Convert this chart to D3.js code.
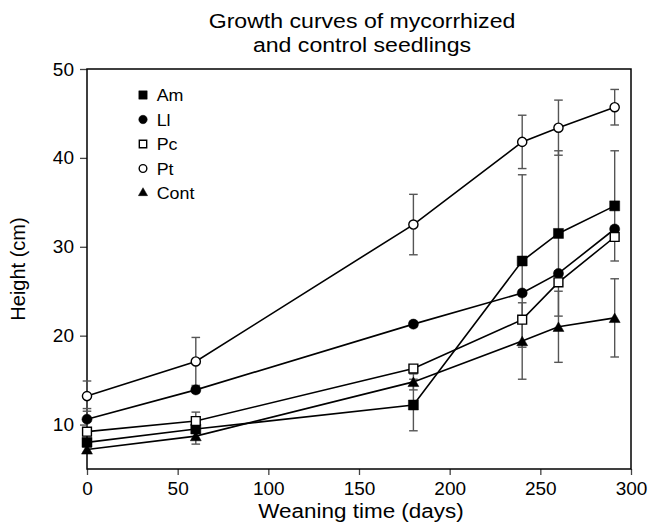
<!DOCTYPE html>
<html>
<head>
<meta charset="utf-8">
<script src="https://cdn.jsdelivr.net/npm/d3@7"></script>
<style>
  body { margin: 0; background: #fff; }
  text { font-family: "Liberation Sans", Arial, sans-serif; fill: #000; }
</style>
</head>
<body>
<svg class="growth" width="650" height="526"></svg>
<script>
/**********************
 Data
**********************/
var days = [0, 60, 180, 240, 260, 291];

var amHeight = [8.0, 9.5, 12.2, 28.4, 31.5, 34.6];
var amErr = [0.3, 0.3, 2.9, 9.7, 9.3, 6.2];
var llHeight = [10.6, 13.9, 21.3, 24.8, 27.0, 32.0];
var llErr = [1.2, 0.3, 0.3, 0.3, 0.3, 0.3];
var pcHeight = [9.2, 10.4, 16.3, 21.8, 26.0, 31.1];
var pcErr = [0.3, 1.0, 0.3, 0.3, 0.3, 0.3];
var ptHeight = [13.2, 17.1, 32.5, 41.8, 43.4, 45.7];
var ptErr = [1.7, 2.7, 3.4, 3.0, 3.1, 2.0];
var contHeight = [7.2, 8.7, 14.8, 19.4, 21.0, 22.0];
var contErr = [0.3, 0.9, 0.9, 4.3, 4.0, 4.4];

var seriesNames = ['Am', 'Ll', 'Pc', 'Pt', 'Cont'];
var xTicks = [0, 50, 100, 150, 200, 250, 300];
var yTicks = [10, 20, 30, 40, 50];

// marker look for each series
var markerStyle = {
  'Am':   {shape: d3.symbolSquare,   size: 100, filled: true},
  'Ll':   {shape: d3.symbolCircle,   size: 80,  filled: true},
  'Pc':   {shape: d3.symbolSquare,   size: 78,  filled: false},
  'Pt':   {shape: d3.symbolCircle,   size: 66,  filled: false},
  'Cont': {shape: d3.symbolTriangle, size: 52,  filled: true}
};

var series = [
  {name: 'Am', values: amHeight, err: amErr},
  {name: 'Ll', values: llHeight, err: llErr},
  {name: 'Pc', values: pcHeight, err: pcErr},
  {name: 'Pt', values: ptHeight, err: ptErr},
  {name: 'Cont', values: contHeight, err: contErr}
];
series.forEach(function(s) {
  s.points = days.map(function(d, i) {
    return {day: d, h: s.values[i], e: s.err[i]};
  });
});

/**********************
 Layout
**********************/
var svg = d3.select('svg.growth');
var padding = {t: 69, r: 19, b: 57, l: 87};
var svgWidth = +svg.attr('width');
var svgHeight = +svg.attr('height');
var chartWidth = svgWidth - padding.l - padding.r;
var chartHeight = svgHeight - padding.t - padding.b;

var xScale = d3.scaleLinear().domain([0, 300]).range([0, chartWidth]);
var yScale = d3.scaleLinear().domain([5, 50]).range([chartHeight, 0]);

var chartG = svg.append('g')
  .attr('transform', 'translate(' + [padding.l, padding.t] + ')');

/**********************
 Axes + frame
**********************/
var xAxis = chartG.append('g')
  .attr('transform', 'translate(0,' + chartHeight + ')')
  .call(d3.axisBottom(xScale).tickValues(xTicks).tickSize(6).tickPadding(7));

var yAxis = chartG.append('g')
  .call(d3.axisLeft(yScale).tickValues(yTicks).tickSize(7).tickPadding(6));

[xAxis, yAxis].forEach(function(a) {
  a.select('.domain').remove();
  a.selectAll('line').attr('stroke', '#444').attr('stroke-width', 1.3);
  a.selectAll('text').style('font-size', '19px')
    .style('font-family', '"Liberation Sans", Arial, sans-serif');
});

chartG.append('rect')
  .attr('x', 0).attr('y', 0)
  .attr('width', chartWidth).attr('height', chartHeight)
  .attr('fill', 'none')
  .attr('stroke', '#000')
  .attr('stroke-width', 1.5);

/**********************
 Error bars, lines, markers
**********************/
var capHalf = 4.3;
var errG = chartG.append('g').attr('stroke', '#555').attr('stroke-width', 1.4);

series.forEach(function(s) {
  var g = errG.append('g');
  g.selectAll('line.bar')
    .data(s.points)
    .enter()
    .append('line')
    .attr('x1', function(d) { return xScale(d.day); })
    .attr('x2', function(d) { return xScale(d.day); })
    .attr('y1', function(d) { return yScale(d.h - d.e); })
    .attr('y2', function(d) { return yScale(d.h + d.e); });
  // caps top and bottom
  [-1, 1].forEach(function(sign) {
    g.selectAll('line.cap' + sign)
      .data(s.points)
      .enter()
      .append('line')
      .attr('x1', function(d) { return xScale(d.day) - capHalf; })
      .attr('x2', function(d) { return xScale(d.day) + capHalf; })
      .attr('y1', function(d) { return yScale(d.h + sign * d.e); })
      .attr('y2', function(d) { return yScale(d.h + sign * d.e); });
  });
});

var lineGenerator = d3.line()
  .x(function(d) { return xScale(d.day); })
  .y(function(d) { return yScale(d.h); });

chartG.selectAll('path.series')
  .data(series)
  .enter()
  .append('path')
  .attr('class', 'series')
  .attr('d', function(d) { return lineGenerator(d.points); })
  .attr('fill', 'none')
  .attr('stroke', '#000')
  .attr('stroke-width', 1.6);

function drawMarker(sel, name, scale) {
  var st = markerStyle[name];
  sel.attr('d', d3.symbol().type(st.shape).size(st.size * scale))
    .attr('fill', st.filled ? '#000' : '#fff')
    .attr('stroke', '#000')
    .attr('stroke-width', st.filled ? 0.5 : 1.4);
}

series.forEach(function(s) {
  var m = chartG.selectAll('path.m' + s.name)
    .data(s.points)
    .enter()
    .append('path')
    .attr('class', 'm' + s.name)
    .attr('transform', function(d) {
      var dy = s.name === 'Cont' ? 1.5 : 0;
      return 'translate(' + xScale(d.day) + ',' + (yScale(d.h) + dy) + ')';
    });
  drawMarker(m, s.name, 1);
});

/**********************
 Legend
**********************/
var legendG = svg.append('g').attr('transform', 'translate(143,95)');
var legendItems = legendG.selectAll('g')
  .data(seriesNames)
  .enter()
  .append('g')
  .attr('transform', function(d, i) { return 'translate(0,' + (i * 24.5) + ')'; });

legendItems.append('path')
  .each(function(d) { drawMarker(d3.select(this), d, 0.7); });

legendItems.append('text')
  .attr('x', 13)
  .attr('y', 6)
  .attr('transform', 'scale(1.05,1)')
  .style('font-size', '17px')
  .text(function(d) { return d; });

/**********************
 Titles
**********************/
var midX = padding.l + chartWidth / 2 + 3;
var title = svg.append('text')
  .attr('text-anchor', 'middle')
  .attr('transform', 'translate(' + midX + ',0) scale(1.1,1)')
  .style('font-size', '21px');
title.append('tspan').attr('x', 0).attr('y', 28).text('Growth curves of mycorrhized');
title.append('tspan').attr('x', 0).attr('y', 52).text('and control seedlings');

svg.append('text')
  .attr('text-anchor', 'middle')
  .attr('transform', 'translate(' + (midX - 1) + ',518) scale(1.07,1)')
  .style('font-size', '21px')
  .text('Weaning time (days)');

svg.append('text')
  .attr('text-anchor', 'middle')
  .attr('transform', 'translate(25,' + (padding.t + chartHeight / 2) + ') rotate(-90)')
  .style('font-size', '20px')
  .text('Height (cm)');
</script>
</body>
</html>
